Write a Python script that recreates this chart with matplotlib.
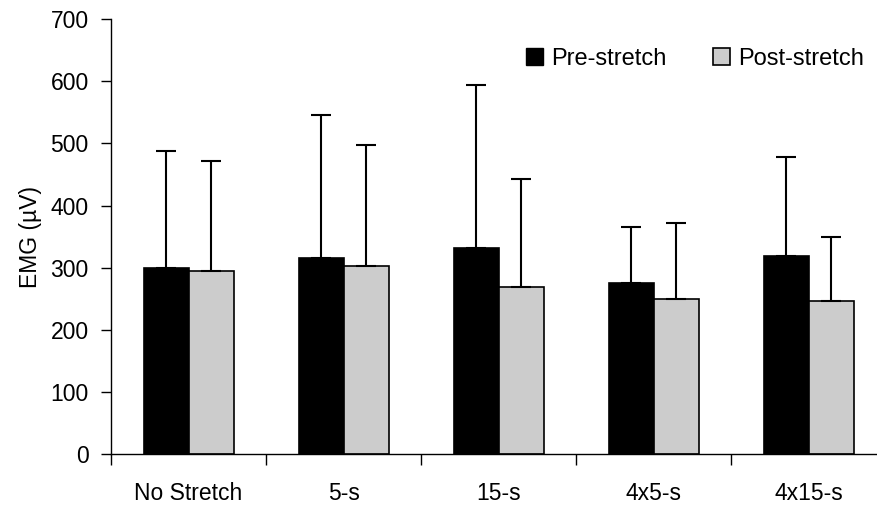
import numpy as np
import matplotlib
matplotlib.use('Agg')
import matplotlib.pyplot as plt
from matplotlib.patches import Patch

plt.rcParams['font.family'] = ['Liberation Sans', 'DejaVu Sans']

# data
categories = ['No Stretch', '5-s', '15-s', '4x5-s', '4x15-s']
pre_mean = [300, 315, 331, 276, 318]
pre_sd = [188, 231, 263, 90, 160]
post_mean = [295, 302, 269, 250, 247]
post_sd = [177, 196, 174, 122, 102]
yticks = [0, 100, 200, 300, 400, 500, 600, 700]

fig = plt.figure(figsize=(8.77, 5.08), dpi=100)
ax = fig.add_axes([0.1266, 0.1063, 0.8734, 0.856])

x = np.arange(len(categories))
w = 0.29
err_kw = dict(ecolor='black', elinewidth=1.5, capsize=7.5, capthick=1.5)

ax.bar(x - w / 2, pre_mean, w, color='black', edgecolor='black', linewidth=1.2,
       yerr=[np.zeros(len(pre_sd)), pre_sd], error_kw=err_kw, label='Pre-stretch')
ax.bar(x + w / 2, post_mean, w, color='#cccccc', edgecolor='black', linewidth=1.2,
       yerr=[np.zeros(len(post_sd)), post_sd], error_kw=err_kw, label='Post-stretch')

ax.set_xlim(-0.5, 4.44)
ax.set_ylim(0, 700)
ax.set_yticks(yticks)
ax.tick_params(axis='y', direction='out', length=7, width=1, labelsize=16.5, pad=9)

# category boundary ticks on the x axis, labels centred under groups
ax.set_xticks(np.arange(len(categories)) - 0.5)
ax.set_xticklabels([])
ax.set_xticks(x, minor=True)
ax.set_xticklabels(categories, minor=True)
ax.tick_params(axis='x', which='major', direction='out', length=8, width=1)
ax.tick_params(axis='x', which='minor', length=0, labelsize=16.5, pad=20)

ax.spines['top'].set_visible(False)
ax.spines['right'].set_visible(False)
ax.spines['left'].set_linewidth(1)
ax.spines['bottom'].set_linewidth(1)

ax.set_ylabel('EMG (µV)', fontsize=16.5, labelpad=6)

handles = [Patch(facecolor='black', edgecolor='black', label='Pre-stretch'),
           Patch(facecolor='#cccccc', edgecolor='black', linewidth=1.2, label='Post-stretch')]
ax.legend(handles=handles, loc='center left', bbox_to_anchor=(0.5998, 0.884),
          bbox_transform=fig.transFigure, ncol=2, frameon=False, fontsize=17,
          handlelength=0.7, handleheight=0.7, handletextpad=0.35, columnspacing=2.0,
          borderpad=0, borderaxespad=0)

fig.savefig('out.png', dpi=100)
